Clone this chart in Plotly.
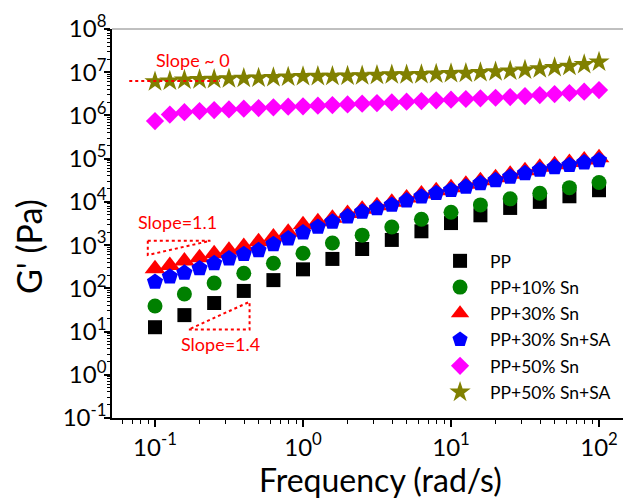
import numpy as np
import plotly.graph_objects as go

# ---------------- data ----------------
freq = [0.1, 0.126, 0.158, 0.2, 0.251, 0.316, 0.398, 0.501, 0.631, 0.794,
        1.0, 1.26, 1.58, 2.0, 2.51, 3.16, 3.98, 5.01, 6.31, 7.94,
        10.0, 12.6, 15.8, 20.0, 25.1, 31.6, 39.8, 50.1, 63.1, 79.4, 100.0]
freq_half = [0.1, 0.158, 0.251, 0.398, 0.631, 1.0, 1.58, 2.51, 3.98, 6.31,
             10.0, 15.8, 25.1, 39.8, 63.1, 100.0]

g_pp = [12.6, 24.0, 45.7, 87.1, 155, 275, 479, 813, 1318, 2089,
        3236, 4898, 7244, 10000, 13490, 18620]
g_10sn = [38.9, 74.1, 132, 224, 380, 646, 1122, 1698, 2630, 3981,
          5754, 8511, 11750, 15850, 21380, 28180]
g_30sn = [282, 339, 427, 513, 631, 759, 933, 1202, 1549, 1995,
          2951, 3467, 4169, 5370, 6761, 8128, 9772, 12300, 15140, 18200,
          21380, 25700, 30900, 36310, 43650, 52480, 63100, 72440, 81280, 93330,
          104700]
g_30sn_sa = [141, 186, 229, 288, 380, 490, 617, 759, 1047, 1413,
             1950, 2630, 3467, 4571, 5888, 7079, 8511, 10720, 13180, 15850,
             18620, 22390, 26920, 31620, 38020, 45710, 54950, 63100, 70790, 81280,
             91200]
g_50sn = [7.41e5, 1.047e6, 1.189e6, 1.259e6, 1.334e6, 1.380e6, 1.432e6, 1.483e6,
          1.538e6, 1.592e6, 1.622e6, 1.679e6, 1.742e6, 1.803e6, 1.871e6, 1.936e6,
          2.004e6, 2.080e6, 2.153e6, 2.234e6, 2.312e6, 2.399e6, 2.483e6, 2.570e6,
          2.667e6, 2.812e6, 2.965e6, 3.126e6, 3.304e6, 3.540e6, 3.873e6]
g_50sn_sa = [6.03e6, 6.31e6, 6.61e6, 6.76e6, 6.92e6, 7.08e6, 7.24e6, 7.41e6,
             7.59e6, 7.76e6, 7.94e6, 8.04e6, 8.13e6, 8.22e6, 8.32e6, 8.51e6,
             8.71e6, 8.81e6, 8.91e6, 9.12e6, 9.33e6, 9.55e6, 9.89e6, 1.023e7,
             1.072e7, 1.122e7, 1.202e7, 1.288e7, 1.380e7, 1.514e7, 1.738e7]

series_names = ["PP", "PP+10% Sn", "PP+30% Sn", "PP+30% Sn+SA",
                "PP+50% Sn", "PP+50% Sn+SA"]

# slope guide lines
slope0_x = [0.067, 0.275]
slope0_y = [6.3e6, 6.3e6]
slope11_x = [0.0894, 0.2366, 0.0894, 0.0894]
slope11_y = [1259, 1259, 590, 1259]
slope14_x = [0.1693, 0.4355, 0.4355, 0.1693]
slope14_y = [11.2, 11.2, 48.7, 11.2]

slope_labels = ["Slope ~ 0", "Slope=1.1", "Slope=1.4"]
slope_label_x = [0.181, 0.141, 0.279]
slope_label_y = [1.95e7, 3500, 5.1]

x_tickvals = [0.1, 1, 10, 100]
x_ticktext = ["10<sup>-1</sup>", "10<sup>0</sup>", "10<sup>1</sup>", "10<sup>2</sup>"]
y_tickvals = [1e-1, 1e0, 1e1, 1e2, 1e3, 1e4, 1e5, 1e6, 1e7, 1e8]
y_ticktext = ["10<sup>-1</sup>", "10<sup>0</sup>", "10<sup>1</sup>", "10<sup>2</sup>",
              "10<sup>3</sup>", "10<sup>4</sup>", "10<sup>5</sup>", "10<sup>6</sup>",
              "10<sup>7</sup>", "10<sup>8</sup>"]

FONT = "Lato"

# page body adds an 8px offset; figure is sized to fill the remaining window
W, H = 623, 493
L, T, R, B = 104, 21, 0, 83
pw, ph = W - L - R, H - T - B


def px_to_paper(x, y):
    return (x - L) / pw, (H - B - y) / ph


fig = go.Figure()

styles = [
    (freq_half, g_pp, "square", "#000000", 14),
    (freq_half, g_10sn, "circle", "#008000", 15),
    (freq, g_30sn, "triangle-up", "#FF0000", 18),
    (freq, g_30sn_sa, "pentagon", "#0000FF", 17),
    (freq, g_50sn, "diamond", "#FF00FF", 14),
    (freq, g_50sn_sa, "star", "#808000", 16),
]
for i, (xs, ys, sym, col, sz) in enumerate(styles):
    fig.add_trace(go.Scatter(
        x=xs, y=ys, mode="markers", name=series_names[i],
        legendgroup=series_names[i],
        marker=dict(symbol=sym, color=col, size=sz, line=dict(width=0)),
    ))

for xs, ys in [(slope0_x, slope0_y), (slope11_x, slope11_y), (slope14_x, slope14_y)]:
    fig.add_trace(go.Scatter(
        x=xs, y=ys, mode="lines", showlegend=False, hoverinfo="skip",
        line=dict(color="#FF0000", width=2, dash="dot"),
    ))

for t, xv, yv in zip(slope_labels, slope_label_x, slope_label_y):
    fig.add_annotation(x=np.log10(xv), y=np.log10(yv), xref="x", yref="y",
                       text=t, showarrow=False, xanchor="center", yanchor="middle",
                       font=dict(family=FONT, size=18, color="#FF0000"))

# axis titles as annotations
ax, ay = px_to_paper(372, 471)
fig.add_annotation(x=ax, y=ay, xref="paper", yref="paper", text="Frequency (rad/s)",
                   showarrow=False, xanchor="center", yanchor="middle",
                   font=dict(family=FONT, size=32, color="black"))
bx, by = px_to_paper(20, 239)
fig.add_annotation(x=bx, y=by, xref="paper", yref="paper", text="G' (Pa)",
                   showarrow=False, textangle=-90, xanchor="center", yanchor="middle",
                   font=dict(family=FONT, size=34, color="black"))

minor_x = [m * 10.0 ** e for e in range(-2, 3) for m in range(2, 10)]
minor_y = [m * 10.0 ** e for e in range(-2, 9) for m in range(2, 10)]

fig.update_layout(
    width=W, height=H,
    margin=dict(l=L, r=R, t=T, b=B, pad=0),
    paper_bgcolor="white", plot_bgcolor="white",
    font=dict(family=FONT, color="black"),
    showlegend=True,
    legend=dict(x=0.6128, y=0.45, xanchor="left", yanchor="top",
                font=dict(family=FONT, size=17.5, color="black"),
                bgcolor="rgba(0,0,0,0)", traceorder="grouped",
                tracegroupgap=0.5, itemwidth=50),
    xaxis=dict(type="log", range=[-1.2905, 2.216], showgrid=False, zeroline=False,
               automargin=False,
               showline=True, linecolor="black", linewidth=1.5,
               ticks="outside", ticklen=7, tickwidth=1.5, tickcolor="black",
               tickmode="array", tickvals=x_tickvals, ticktext=x_ticktext,
               tickfont=dict(family=FONT, size=24, color="black"),
               minor=dict(ticks="outside", ticklen=4, tickwidth=1, tickcolor="black",
                          tickmode="array", tickvals=minor_x, showgrid=False)),
    yaxis=dict(type="log", range=[-1, 8], showgrid=False, zeroline=False,
               automargin=False,
               showline=True, linecolor="black", linewidth=1.5,
               ticks="outside", ticklen=6, tickwidth=1.5, tickcolor="black",
               tickmode="array", tickvals=y_tickvals, ticktext=y_ticktext,
               ticklabelstandoff=-7,
               tickfont=dict(family=FONT, size=24, color="black"),
               minor=dict(ticks="outside", ticklen=3, tickwidth=1, tickcolor="black",
                          tickmode="array", tickvals=minor_y, showgrid=False)),
    shapes=[dict(type="line", xref="paper", yref="paper", x0=0, x1=1, y0=1, y1=1,
                 line=dict(color="#808080", width=1))],
)

fig.write_html("out.html")
